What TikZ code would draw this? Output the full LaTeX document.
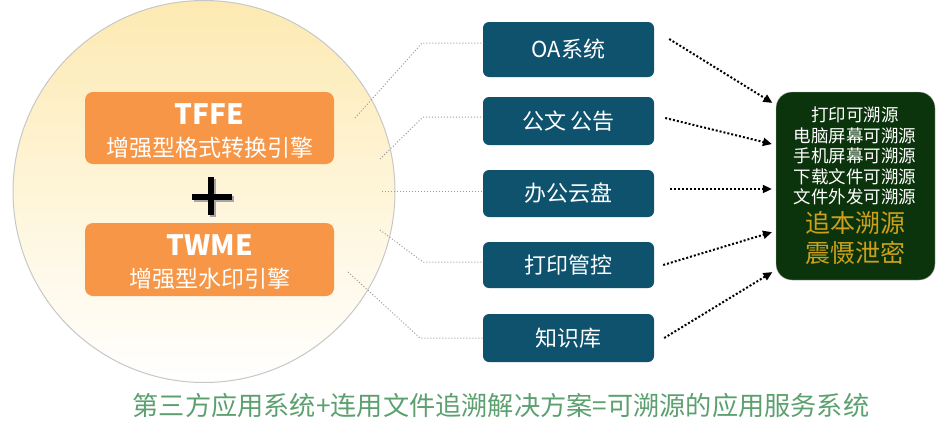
\documentclass[tikz,border=0pt]{standalone}
\usepackage{fontspec}
\setmainfont{Noto Sans CJK SC}
\usetikzlibrary{arrows.meta}

\definecolor{engineorange}{RGB}{247,150,70}
\definecolor{appblue}{RGB}{14,82,110}
\definecolor{tracegreen}{RGB}{12,52,12}
\definecolor{mottogold}{RGB}{204,160,28}
\definecolor{captiongreen}{RGB}{92,160,112}
\definecolor{circleyellow}{RGB}{253,234,178}

\begin{document}
\begin{tikzpicture}[x=1pt, y=-1pt,
    engine/.style={fill=engineorange, rounded corners=8pt, minimum width=249pt, minimum height=72pt, inner sep=0pt},
    appbox/.style={fill=appblue, rounded corners=6pt, minimum width=171pt, inner sep=0pt, text=white, font=\fontsize{22}{24}\selectfont},
    greyline/.style={dotted, color=gray!80, line width=1pt},
    blackarrow/.style={dotted, line width=2pt, -{Triangle[length=9pt, width=8pt]}}]
    \useasboundingbox (0,0) rectangle (948,426);

    % the big circle with the two engines
    \shade[top color=circleyellow, bottom color=white] (204,191.5) circle (191pt);
    \draw[color=black!22, line width=1pt] (204,191.5) circle (191pt);

    \node[engine] (tffe) at (209.5,128) {};
    \node[text=white, font=\fontsize{28}{30}\selectfont\bfseries] (tffename) at (209.5,114) {TFFE};
    \node[text=white, font=\fontsize{23}{26}\selectfont] (tffetext) at (209.5,148) {增强型格式转换引擎};

    \node[engine, minimum height=73pt] (twme) at (209.5,259.5) {};
    \node[text=white, font=\fontsize{28}{30}\selectfont\bfseries] (twmename) at (209.5,245) {TWME};
    \node[text=white, font=\fontsize{23}{26}\selectfont] (twmetext) at (209.5,279) {增强型水印引擎};

    % plus sign
    \draw[color=black!35, line width=6pt] (194,199) -- (234,199) (213,179) -- (213,217);
    \draw[color=black, line width=6pt] (192,197) -- (232,197) (211,177) -- (211,215);

    % application systems
    \foreach \name/\y/\h/\label in {oa/49.5/55/OA系统, doc/121/48/公文 公告, disk/193.5/47/办公云盘, print/265/46/打印管控, wiki/338/48/知识库}
        \node[appbox, minimum height=\h pt] (\name) at (568.5,\y) {\label};

    % grey connectors from the circle
    \coordinate (s1) at (355,118); \coordinate (k1) at (422,43);
    \coordinate (s2) at (380,159); \coordinate (k2) at (423,117);
    \coordinate (s3) at (382,191);
    \coordinate (s4) at (380,230); \coordinate (k4) at (423,262);
    \coordinate (s5) at (348,272); \coordinate (k5) at (420,338);

    \draw[greyline] (s1) -- (k1) -- (k1 -| oa.west);
    \draw[greyline] (s2) -- (k2) -- (k2 -| doc.west);
    \draw[greyline] (s3) -- (s3 -| disk.west);
    \draw[greyline] (s4) -- (k4) -- (k4 -| print.west);
    \draw[greyline] (s5) -- (k5) -- (k5 -| wiki.west);

    % traceable result
    \node[fill=tracegreen, draw=black!30, rounded corners=16pt, minimum width=159pt, minimum height=188pt] (tracebox) at (855.5,186) {};
    \node[text=white, align=center, font=\fontsize{17.5}{20.5}\selectfont] (tracelist) at (855,156)
        {打印可溯源\\电脑屏幕可溯源\\手机屏幕可溯源\\下载文件可溯源\\文件外发可溯源};
    \node[text=mottogold, align=center, font=\fontsize{25}{30}\selectfont] (tracemotto) at (855,238)
        {追本溯源\\震慑泄密};

    \foreach \name/\sx/\sy/\ty in {oa/15/10.5/81, doc/11/3/41, disk/16/4.5/-3, print/9/0/-45, wiki/10/0/-84}
        \draw[blackarrow, shorten >=4pt] ([xshift=\sx pt, yshift=\sy pt]\name.east) -- ([yshift=\ty pt]tracebox.west);

    % caption
    \node[text=captiongreen, font=\fontsize{26.2}{28}\selectfont] (caption) at (501,406)
        {第三方应用系统+连用文件追溯解决方案=可溯源的应用服务系统};
\end{tikzpicture}
\end{document}
